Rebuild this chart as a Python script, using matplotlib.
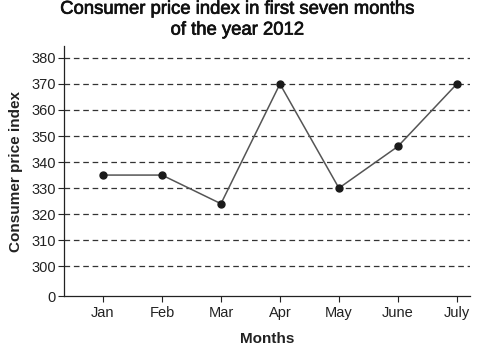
import numpy as np
import matplotlib.pyplot as plt
import matplotlib.patheffects as pe

plt.rcParams['font.family'] = ['Liberation Sans', 'DejaVu Sans']

MONTHS = ['Jan', 'Feb', 'Mar', 'Apr', 'May', 'June', 'July']
CPI = [335, 335, 324, 370, 330, 346, 370]
YTICKS = [300, 310, 320, 330, 340, 350, 360, 370, 380]
ZERO_POS = 288.5  # broken axis: "0" drawn just below 300

fig = plt.figure(figsize=(4.93, 3.48), dpi=100)
ax = fig.add_axes([0.130, 0.149, 0.823, 0.719])

x = np.arange(len(MONTHS))
for v in YTICKS:
    ax.axhline(v, color='#333333', lw=0.9, ls=(0, (4.5, 3)), zorder=1)
ax.plot(x, CPI, color='#555555', lw=1.1, zorder=2)
ax.plot(x, CPI, 'o', color='#1a1a1a', ms=5, zorder=3)

ax.set_xlim(-0.66, 6.22)
ax.set_ylim(ZERO_POS, 384.6)
ax.set_xticks(x)
ax.set_xticklabels(MONTHS)
ax.set_yticks([ZERO_POS] + YTICKS)
ax.set_yticklabels(['0'] + [str(v) for v in YTICKS])
ax.tick_params(labelsize=10.5, colors='#222222', length=4, width=0.8, pad=3)
ax.tick_params(axis='y', pad=2)

for s in ['top', 'right']:
    ax.spines[s].set_visible(False)
for s in ['left', 'bottom']:
    ax.spines[s].set_linewidth(0.9)
    ax.spines[s].set_color('#222222')

ax.set_xlabel('Months', fontsize=11, fontweight='bold', color='#222222', labelpad=9)
ax.set_ylabel('Consumer price index', fontsize=11, fontweight='bold', color='#222222', labelpad=6)
# slightly heavier than regular, like the original's medium-weight title
fig.text(0.481, 0.998, 'Consumer price index in first seven months\nof the year 2012',
         ha='center', va='top', fontsize=13.3, color='#111111', linespacing=1.3,
         path_effects=[pe.withStroke(linewidth=0.5, foreground='#111111')])

fig.savefig('out.png', dpi=100)
